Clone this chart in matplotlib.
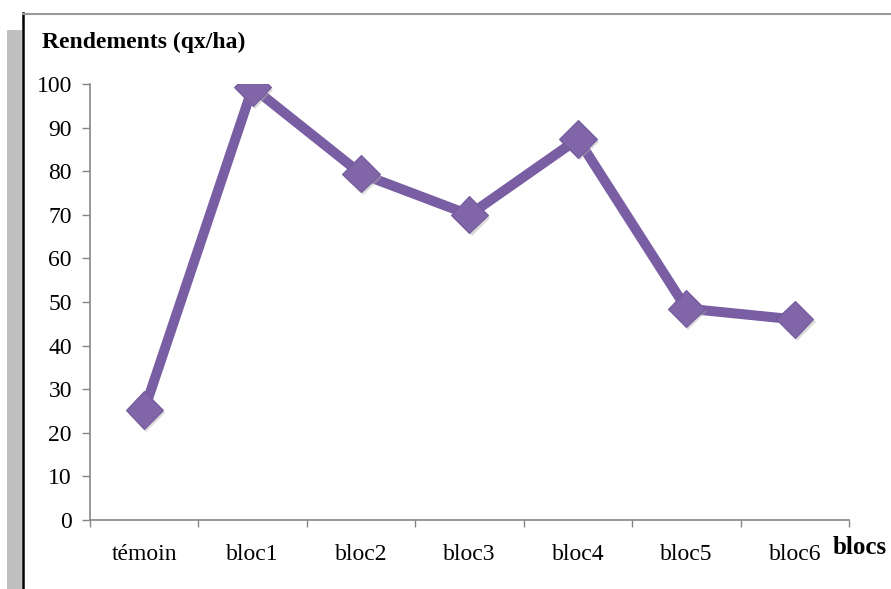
import matplotlib.pyplot as plt
import matplotlib.patheffects as pe
from matplotlib.lines import Line2D
from matplotlib.patches import Rectangle

# === Data ===
categories = ["témoin", "bloc1", "bloc2", "bloc3", "bloc4", "bloc5", "bloc6"]
rendements = [25.2, 99.2, 79.4, 70.0, 87.4, 48.5, 46.0]
y_ticks = [0, 10, 20, 30, 40, 50, 60, 70, 80, 90, 100]

plt.rcParams['font.family'] = ['Liberation Serif', 'DejaVu Serif']

fig = plt.figure(figsize=(8.91, 5.89), dpi=100)
ax = fig.add_axes([90 / 891, 69 / 589, 759 / 891, 436 / 589])

# === Frame decorations (grey band, black border, top rule) ===
fig.patches.append(Rectangle((7 / 891, 0), 15 / 891, 559 / 589, transform=fig.transFigure,
                             facecolor='#c0c0c0', edgecolor='none', zorder=0))
fig.lines.append(Line2D([23 / 891, 23 / 891], [0, 576 / 589], transform=fig.transFigure,
                        color='black', linewidth=1.8))
fig.lines.append(Line2D([23 / 891, 1], [575.5 / 589, 575.5 / 589], transform=fig.transFigure,
                        color='#999999', linewidth=1.5))

# === Line + markers ===
x = [i + 0.5 for i in range(len(categories))]
ax.plot(x, rendements, color='#7a5ea3', linewidth=7.2, solid_capstyle='round', zorder=2)
ax.plot(x, rendements, linestyle='none', marker='D', markersize=19,
        markerfacecolor='#8165a9', markeredgecolor='#735a9a', markeredgewidth=0.8, zorder=3,
        path_effects=[pe.SimplePatchShadow(offset=(1.5, -2), shadow_rgbFace='#b0b0b0', alpha=0.45),
                      pe.Normal()])

# === Axes styling ===
ax.set_xlim(0, len(categories))
ax.set_ylim(0, 100)
ax.set_yticks(y_ticks)
ax.set_xticks(range(len(categories) + 1))
ax.set_xticklabels([])
ax.set_xticks(x, minor=True)
ax.set_xticklabels(categories, minor=True)

for side in ['top', 'right']:
    ax.spines[side].set_visible(False)
for side in ['left', 'bottom']:
    ax.spines[side].set_color('#868686')
    ax.spines[side].set_linewidth(1.2)

ax.tick_params(axis='y', which='major', length=6, width=1, color='#868686',
               labelsize=17, pad=7)
ax.tick_params(axis='x', which='major', length=5, width=1, color='#868686')
ax.tick_params(axis='x', which='minor', length=0, labelsize=17, pad=17)

fig.text(42 / 891, 1 - 42 / 589, "Rendements (qx/ha)", fontsize=17, fontweight='bold',
         va='center', ha='left')
fig.text(833 / 891, 1 - 548 / 589, "blocs", fontsize=18, fontweight='bold',
         va='center', ha='left')

fig.savefig("out.png", dpi=100)
